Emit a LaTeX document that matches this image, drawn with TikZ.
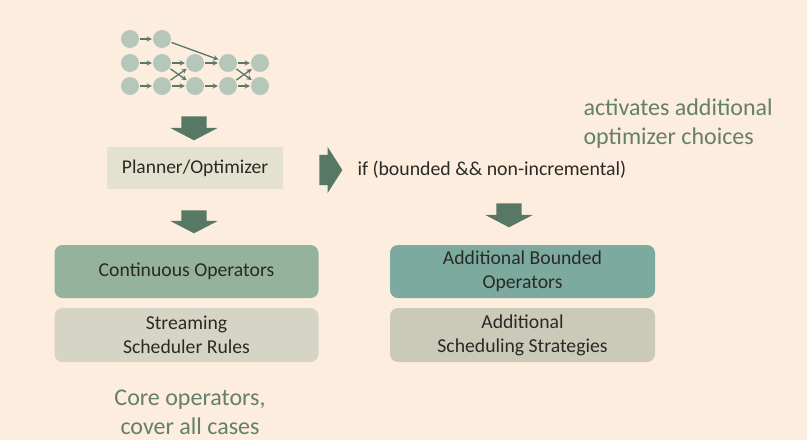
\documentclass[tikz,border=0pt]{standalone}
\usepackage{fontspec}
\setmainfont{Carlito}
\usepackage{xcolor}
\usetikzlibrary{arrows,shapes.arrows}

\definecolor{fon}{HTML}{FCEDDE}
\definecolor{krug}{HTML}{B5C7BA}
\definecolor{strelka}{HTML}{587866}
\definecolor{planbox}{HTML}{E5E1CF}
\definecolor{contbox}{HTML}{95B29D}
\definecolor{streambox}{HTML}{D6D5C5}
\definecolor{boundbox}{HTML}{7DAA9E}
\definecolor{schedbox}{HTML}{CBC9B7}
\definecolor{zelen}{HTML}{64806A}
\definecolor{tekst}{HTML}{2A2A24}

\tikzset{
  vertex/.style={circle, fill=krug, minimum size=18pt, inner sep=0pt},
  edge/.style={->, >=stealth, strelka, line width=1.3pt, shorten >=1pt, shorten <=1pt},
  bigarrow/.style={single arrow, fill=strelka, inner xsep=0pt, inner ysep=12.5pt,
    minimum width=47pt, single arrow head extend=11pt, single arrow tip angle=125},
  downarrow/.style={bigarrow, shape border rotate=270, inner xsep=12.5pt, inner ysep=0pt},
  opbox/.style={rounded corners=8pt, minimum width=264pt, minimum height=53pt,
    align=center, text=tekst, font=\fontsize{19.7}{24}\selectfont},
  note/.style={text=zelen, align=center, font=\fontsize{24}{29}\selectfont}
}

\begin{document}
\begin{tikzpicture}[x=1pt, y=-1pt]
\fill[fon] (0,0) rectangle (807,440);
\useasboundingbox (0,0) rectangle (807,440);
% граф
\node[vertex] (n11) at (130,39) {};
\node[vertex] (n12) at (162,39) {};
\foreach \c/\x in {1/130,2/162,3/195,4/228,5/260} {
  \node[vertex] (n2\c) at (\x,63) {};
  \node[vertex] (n3\c) at (\x,86) {};
}
\draw[edge] (n11) -- (n12);
\draw[edge] (n12) -- (n24);
\foreach \a/\b in {1/2,2/3,3/4,4/5} {
  \draw[edge] (n2\a) -- (n2\b);
  \draw[edge] (n3\a) -- (n3\b);
}
\draw[edge] (n22) -- (n33);
\draw[edge] (n32) -- (n23);
\draw[edge] (n24) -- (n35);
\draw[edge] (n34) -- (n25);
% блоки
\node[fill=planbox, minimum width=176pt, minimum height=42pt, text=tekst,
  font=\fontsize{19.5}{24}\selectfont] (plan) at (195,168) {Planner/Optimizer};
\node[opbox, fill=contbox] (cont) at (186.5,271.5) {Continuous Operators};
\node[opbox, fill=streambox, minimum height=54pt] (stream) at (186.5,335) {Streaming\\Scheduler Rules};
\node[opbox, fill=boundbox, minimum width=265pt] (bound) at (522.5,271.5) {Additional Bounded\\Operators};
\node[opbox, fill=schedbox, minimum width=265pt, minimum height=54pt] (sched) at (522.5,335) {Additional\\Scheduling Strategies};
% стрелки
\node[downarrow, minimum height=24pt] (a1) at (194,125) {};
\node[downarrow, minimum height=23pt] (a2) at (194,218.5) {};
\node[downarrow, minimum height=24pt] (a3) at (509,212) {};
\node[bigarrow, inner ysep=15pt, minimum width=46pt, single arrow head extend=8pt,
  single arrow tip angle=115, minimum height=23pt] (a0) at (326,170) {};
% подписи
\node[anchor=west, text=tekst, font=\fontsize{19.8}{24}\selectfont] (cond) at (354,170) {if (bounded \&\& non-incremental)};
\node[note, align=left, anchor=west] (act) at (580,123.5) {activates additional\\optimizer choices};
\node[note] (core) at (190,412) {Core operators,\\cover all cases};
\end{tikzpicture}
\end{document}
